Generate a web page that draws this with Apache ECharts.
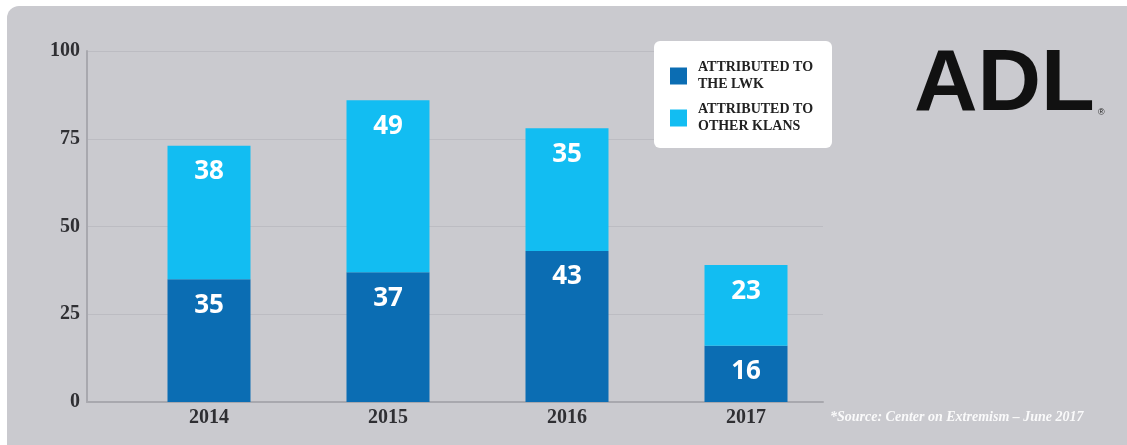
<!DOCTYPE html>
<html>
<head>
<meta charset="utf-8">
<script src="https://cdn.jsdelivr.net/npm/echarts@6/dist/echarts.min.js"></script>
<style>
html,body{margin:0;padding:0;background:#ffffff;}
#chart{width:1127px;height:445px;}
</style>
</head>
<body>
<div id="chart"></div>
<script>
const years = ['2014', '2015', '2016', '2017'];
const lwkValues = [35, 37, 43, 16];
const otherValues = [38, 49, 35, 23];
const seriesNames = ['ATTRIBUTED TO\nTHE LWK', 'ATTRIBUTED TO\nOTHER KLANS'];
const yTicks = [0, 25, 50, 75, 100];
const sourceNote = '*Source: Center on Extremism \u2013 June 2017';
const logoText = 'ADL';

const chart = echarts.init(document.getElementById('chart'), null, {renderer: 'canvas'});

const tickFont = {fontFamily: '"Liberation Serif", serif', fontWeight: 'bold', fontSize: 20, color: '#2f2f33'};
const barLabel = {
  show: true, position: 'insideTop', distance: 13,
  color: '#ffffff', fontFamily: '"Open Sans", sans-serif', fontWeight: 'bold', fontSize: 26
};

const option = {
  backgroundColor: '#ffffff',
  animation: false,
  graphic: [
    {type: 'rect', z: -10, shape: {x: 7, y: 6, width: 1140, height: 460, r: 12}, style: {fill: '#cacacf'}},
    {type: 'text', left: 914, top: 42, style: {text: logoText, fill: '#111111', font: 'bold 88px "Liberation Sans", Arial, sans-serif'}},
    {type: 'text', left: 1098, top: 108, style: {text: '\u00ae', fill: '#222222', font: '9px "Liberation Sans", sans-serif'}},
    {type: 'text', left: 830, top: 410, style: {text: sourceNote, fill: 'rgba(255,255,255,0.9)', font: 'italic bold 14px "Liberation Serif", serif'}}
  ],
  legend: {
    show: true,
    orient: 'vertical',
    left: 654, top: 41,
    backgroundColor: '#ffffff',
    borderRadius: 6,
    padding: [18, 19, 13, 16],
    itemGap: 8,
    itemWidth: 17, itemHeight: 17,
    icon: 'rect',
    textStyle: {fontFamily: '"Liberation Serif", serif', fontWeight: 'bold', fontSize: 14, lineHeight: 17, color: '#222222', padding: [0, 0, 0, 6]},
    data: seriesNames
  },
  grid: [
    {left: 87, right: 304, top: 51, bottom: 43},
    {left: 119.5, right: 291.5, top: 51, bottom: 43}
  ],
  xAxis: [
    {type: 'category', gridIndex: 0, data: years, axisLabel: {show: false}, axisTick: {show: false},
     axisLine: {show: true, lineStyle: {color: '#a8a8ae', width: 2}}},
    {type: 'category', gridIndex: 1, data: years, axisTick: {show: false}, axisLine: {show: false},
     axisLabel: Object.assign({margin: 6}, tickFont)}
  ],
  yAxis: [
    {type: 'value', gridIndex: 0, min: yTicks[0], max: yTicks[yTicks.length - 1], interval: 25,
     axisLine: {show: true, lineStyle: {color: '#a8a8ae', width: 2}}, axisTick: {show: false},
     splitLine: {show: true, lineStyle: {color: '#bcbcc2', width: 1}},
     axisLabel: Object.assign({margin: 7}, tickFont)},
    {type: 'value', gridIndex: 1, min: 0, max: 100, interval: 25, show: false, splitLine: {show: false}}
  ],
  series: [
    {name: seriesNames[0], type: 'bar', stack: 'total', xAxisIndex: 1, yAxisIndex: 1, barWidth: 83,
     itemStyle: {color: '#0b6db3'}, label: barLabel, data: lwkValues},
    {name: seriesNames[1], type: 'bar', stack: 'total', xAxisIndex: 1, yAxisIndex: 1, barWidth: 83,
     itemStyle: {color: '#12bdf2'}, label: barLabel, data: otherValues}
  ]
};
chart.setOption(option);
</script>
</body>
</html>
